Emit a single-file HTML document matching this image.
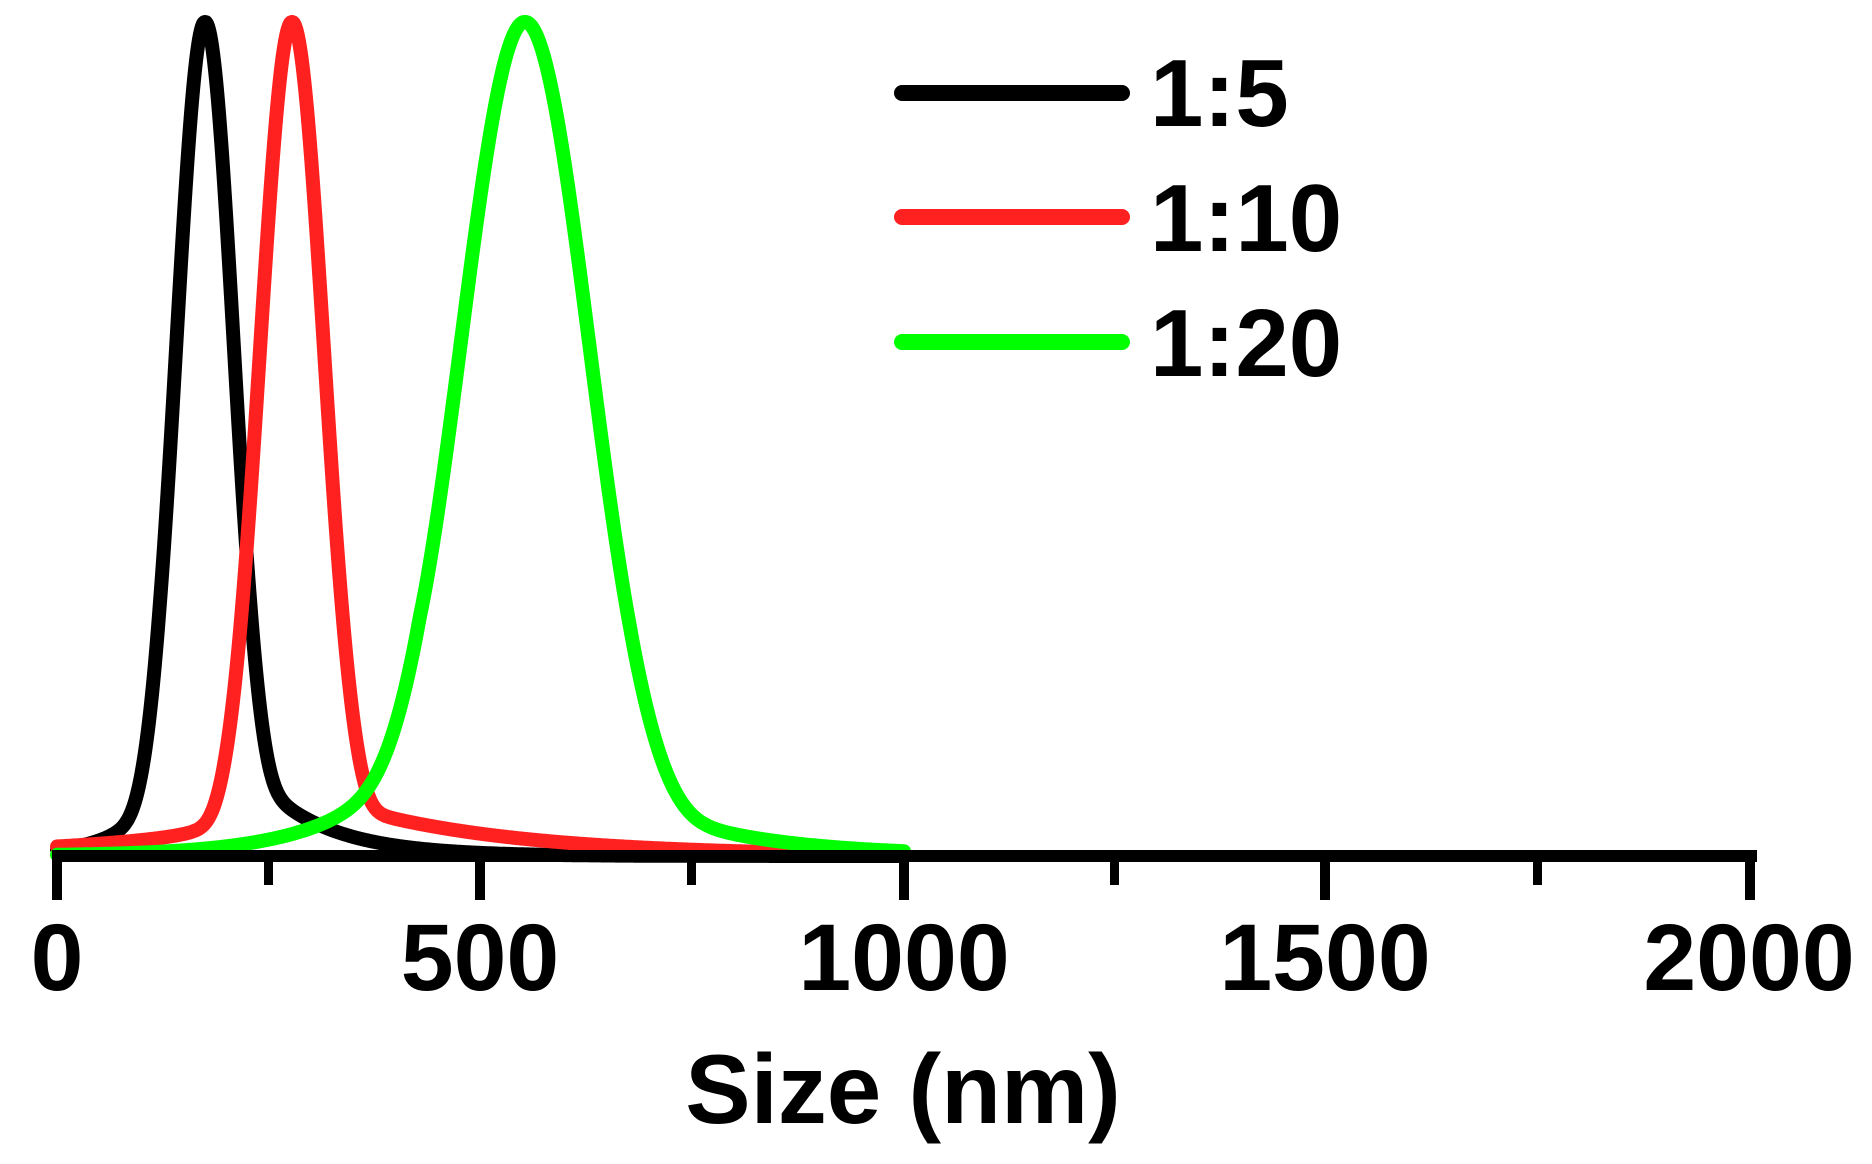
<!DOCTYPE html>
<html><head><meta charset="utf-8">
<style>
html,body{margin:0;padding:0;background:#fff;}
svg{display:block;}
text{font-family:"Liberation Sans",Arial,sans-serif;font-weight:bold;fill:#000;}
</style></head>
<body>
<svg id="s" width="1872" height="1164" viewBox="0 0 1872 1164" xmlns="http://www.w3.org/2000/svg">
<g id="curves" fill="none" stroke-width="14" stroke-linejoin="round" stroke-linecap="round"></g>
<rect x="53" y="850" width="1704" height="12" fill="#000"/>
<g fill="#000">
<rect x="52" y="850" width="10" height="50"/>
<rect x="475" y="850" width="10" height="50"/>
<rect x="899" y="850" width="10" height="50"/>
<rect x="1320" y="850" width="10" height="50"/>
<rect x="1745" y="850" width="10" height="50"/>
<rect x="264" y="850" width="9" height="35"/>
<rect x="687" y="850" width="9" height="35"/>
<rect x="1110" y="850" width="9" height="35"/>
<rect x="1533" y="850" width="9" height="35"/>
</g>
<g font-size="95" text-anchor="middle">
<text x="57" y="990">0</text>
<text x="480" y="990">500</text>
<text x="904" y="990">1000</text>
<text x="1325" y="990">1500</text>
<text x="1749" y="990">2000</text>
</g>
<text x="903" y="1123" font-size="98" text-anchor="middle">Size (nm)</text>
<g stroke-width="16" stroke-linecap="round">
<line x1="902" y1="93" x2="1122" y2="93" stroke="#000"/>
<line x1="902" y1="217" x2="1122" y2="217" stroke="#ff2020"/>
<line x1="902" y1="342" x2="1122" y2="342" stroke="#00ff00"/>
</g>
<g font-size="96">
<text x="1150" y="126">1:5</text>
<text x="1150" y="251">1:10</text>
<text x="1150" y="376">1:20</text>
</g>
</svg>
<script>
function G(x,c,s){return Math.exp(-(x-c)*(x-c)/(2*s*s));}
function T(x,A,x0,t){return A*Math.exp(-Math.abs(x-x0)/t);}
function sm(a,b,c){var p=2.5;return Math.pow(Math.pow(a,p)+Math.pow(b,p)+Math.pow(c,p),1/p);}
var series=[
 {c:"#000",f:function(x){return sm(G(x,205,29),T(x,0.08,160,38),T(x,0.10,250,70));}},
 {c:"#ff2020",f:function(x){return sm(G(x,292,32),T(x,0.07,250,40),T(x,0.062,340,167));}},
 {c:"#00ff00",f:function(x){return sm(G(x,525,65),T(x,0.13,420,80),T(x,0.066,630,112));}}
];
var g=document.getElementById("curves");
series.forEach(function(s){
 var d="";
 for(var x=57;x<=904;x+=1){
  var v=Math.min(1,s.f(x));
  var y=856-834*v;
  d+=(x==57?"M":"L")+x+" "+y.toFixed(1);
 }
 var p=document.createElementNS("http://www.w3.org/2000/svg","path");
 p.setAttribute("d",d);p.setAttribute("stroke",s.c);
 g.appendChild(p);
});
</script>
</body></html>
